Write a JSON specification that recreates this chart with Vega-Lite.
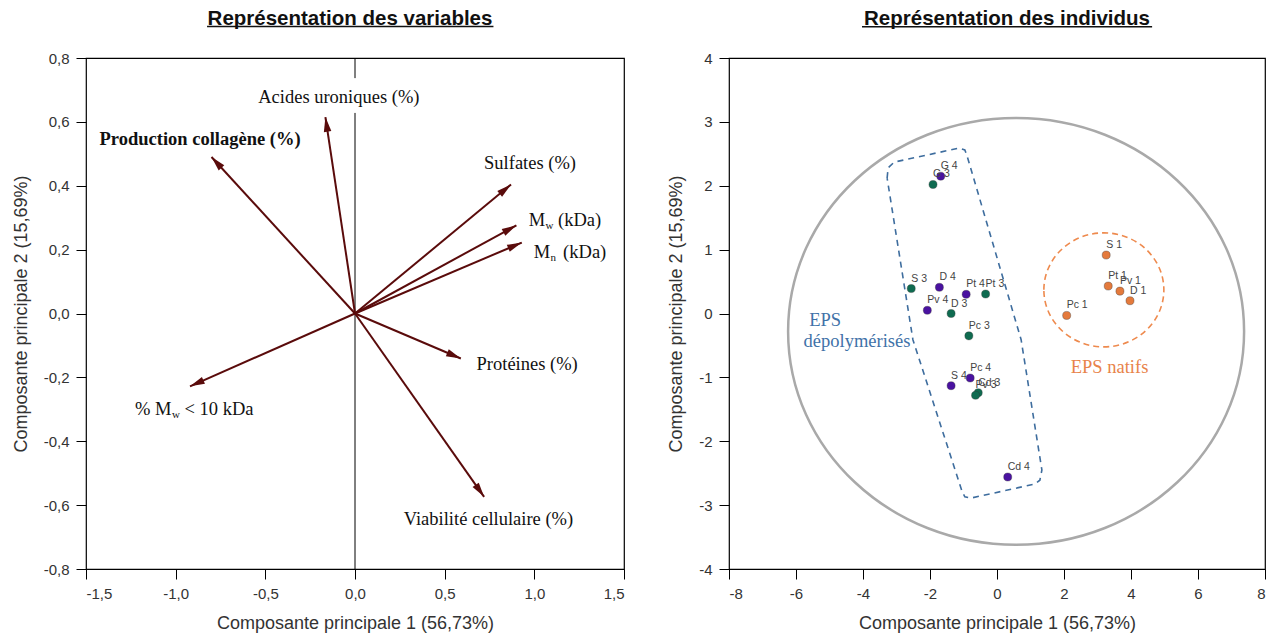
{
  "$schema": "https://vega.github.io/schema/vega-lite/v6.json",
  "background": "white",
  "padding": {"left": 11, "top": 8, "right": 5, "bottom": 5},
  "spacing": 41,
  "config": {
    "view": {"stroke": "#000", "strokeWidth": 1.2},
    "axis": {"grid": false, "domain": false, "tickColor": "#000", "tickSize": 10, "labelFont": "Liberation Sans", "labelFontSize": 15, "labelColor": "#333", "labelPadding": 7, "titleFont": "Liberation Sans", "titleFontSize": 18, "titleFontWeight": "normal", "titleColor": "#333", "titlePadding": 13},
    "title": {"font": "Liberation Sans", "fontSize": 20.5, "fontWeight": "bold", "color": "#111", "offset": -3.5}
  },
  "datasets": {
    "arrows": [
      {"var": "Production collagène (%)", "x": -0.80, "y": 0.49},
      {"var": "Acides uroniques (%)", "x": -0.165, "y": 0.615},
      {"var": "Sulfates (%)", "x": 0.87, "y": 0.404},
      {"var": "Mw (kDa)", "x": 0.90, "y": 0.276},
      {"var": "Mn (kDa)", "x": 0.93, "y": 0.222},
      {"var": "Protéines (%)", "x": 0.59, "y": -0.141},
      {"var": "% Mw < 10 kDa", "x": -0.92, "y": -0.228},
      {"var": "Viabilité cellulaire (%)", "x": 0.72, "y": -0.574}
    ],
    "vlabels": [
      {"text": "Acides uroniques (%)", "x": -0.09, "y": 0.677},
      {"text": "Sulfates (%)", "x": 0.976, "y": 0.47},
      {"text": "Protéines (%)", "x": 0.96, "y": -0.157},
      {"text": "Viabilité  cellulaire  (%)", "x": 0.744, "y": -0.645}
    ],
    "boldlabels": [
      {"text": "Production collagène (%)", "x": -0.864, "y": 0.545}
    ],
    "sublabels": [
      {"pre": "M", "sub": "w", "post": "(kDa)", "x": 1.06, "y": 0.294},
      {"pre": "M", "sub": "n", "post": "(kDa)", "x": 1.088, "y": 0.193},
      {"pre": "% M", "sub": "w", "post": "< 10 kDa", "x": -1.023, "y": -0.30}
    ],
    "axes0": [
      {"y": 0.8, "y2": 0.737},
      {"y": 0.628, "y2": -0.8}
    ],
    "souligneG": [
      {"x": -0.825, "x2": 0.772, "y": 0.899}
    ],
    "souligneD": [
      {"x": -4.03, "x2": 4.63, "y": 4.49}
    ],
    "individus": [
      {"nom": "G 4", "serie": "4", "x": -1.68, "y": 2.15},
      {"nom": "D 4", "serie": "4", "x": -1.72, "y": 0.41},
      {"nom": "Pt 4", "serie": "4", "x": -0.92, "y": 0.30},
      {"nom": "Pv 4", "serie": "4", "x": -2.08, "y": 0.05},
      {"nom": "S 4", "serie": "4", "x": -1.37, "y": -1.13},
      {"nom": "Pc 4", "serie": "4", "x": -0.80, "y": -1.01},
      {"nom": "Cd 4", "serie": "4", "x": 0.32, "y": -2.56},
      {"nom": "G 3", "serie": "3", "x": -1.91, "y": 2.02},
      {"nom": "S 3", "serie": "3", "x": -2.56, "y": 0.39},
      {"nom": "Pt 3", "serie": "3", "x": -0.34, "y": 0.305},
      {"nom": "D 3", "serie": "3", "x": -1.37, "y": 0.0},
      {"nom": "Pc 3", "serie": "3", "x": -0.84, "y": -0.35},
      {"nom": "Cd 3", "serie": "3", "x": -0.56, "y": -1.24},
      {"nom": "Pv 3", "serie": "3", "x": -0.64, "y": -1.28},
      {"nom": "S 1", "serie": "1", "x": 3.26, "y": 0.915},
      {"nom": "Pt 1", "serie": "1", "x": 3.32, "y": 0.43},
      {"nom": "Pv 1", "serie": "1", "x": 3.67, "y": 0.35},
      {"nom": "D 1", "serie": "1", "x": 3.97, "y": 0.20},
      {"nom": "Pc 1", "serie": "1", "x": 2.08, "y": -0.03}
    ],
    "contour": [
      {"o": 1, "x": -3.28, "y": 2.12},
      {"o": 2, "x": -3.25, "y": 2.28},
      {"o": 3, "x": -3.07, "y": 2.37},
      {"o": 4, "x": -1.13, "y": 2.59},
      {"o": 5, "x": -0.96, "y": 2.56},
      {"o": 6, "x": -0.90, "y": 2.48},
      {"o": 7, "x": 0.72, "y": -0.41},
      {"o": 8, "x": 1.34, "y": -2.45},
      {"o": 9, "x": 1.28, "y": -2.61},
      {"o": 10, "x": 1.13, "y": -2.67},
      {"o": 11, "x": -0.78, "y": -2.89},
      {"o": 12, "x": -0.96, "y": -2.87},
      {"o": 13, "x": -1.04, "y": -2.79},
      {"o": 14, "x": -2.51, "y": -0.41},
      {"o": 15, "x": -3.28, "y": 2.12}
    ],
    "groupes": [
      {"text": "EPS", "x": -5.13, "y": -0.10, "g": "dep"},
      {"text": "dépolymérisés", "x": -4.18, "y": -0.43, "g": "dep"},
      {"text": "EPS natifs", "x": 3.36, "y": -0.83, "g": "nat"}
    ],
    "cercles": [
      {"nom": "global", "x": 0.57, "y": -0.28},
      {"nom": "natifs", "x": 3.19, "y": 0.37}
    ]
  },
  "hconcat": [
    {
      "width": 538,
      "height": 511,
      "title": {"text": "Représentation des variables", "dx": -5},
      "layer": [
        {
          "data": {"name": "axes0"},
          "mark": {"type": "rule", "color": "#000", "strokeWidth": 1},
          "encoding": {
            "x": {"datum": 0, "type": "quantitative",
              "scale": {"domain": [-1.5, 1.5], "nice": false, "zero": false},
              "axis": {"values": [-1.5, -1, -0.5, 0, 0.5, 1, 1.5], "title": "Composante principale 1 (56,73%)",
                "labelExpr": "replace(replace(format(datum.value, '.1f'), '.', ','), '\u2212', '-')"}},
            "y": {"field": "y", "type": "quantitative",
              "scale": {"domain": [-0.8, 0.8], "nice": false, "zero": false},
              "axis": {"values": [-0.8, -0.6, -0.4, -0.2, 0, 0.2, 0.4, 0.6, 0.8], "title": "Composante principale 2 (15,69%)",
                "labelExpr": "replace(replace(format(datum.value, '.1f'), '.', ','), '\u2212', '-')"}},
            "y2": {"field": "y2"}
          }
        },
        {
          "mark": {"type": "rule", "color": "#000", "strokeWidth": 1},
          "encoding": {"y": {"datum": 0, "type": "quantitative"}}
        },
        {
          "data": {"name": "arrows"},
          "mark": {"type": "rule", "color": "#5a0b0b", "strokeWidth": 2},
          "encoding": {
            "x": {"field": "x", "type": "quantitative"},
            "y": {"field": "y", "type": "quantitative"},
            "x2": {"datum": 0},
            "y2": {"datum": 0}
          }
        },
        {
          "data": {"name": "arrows"},
          "transform": [{"calculate": "90 - atan2(datum.y * 319.4, datum.x * 179.6) * 180 / PI", "as": "ang"}],
          "mark": {"type": "point", "shape": "M0,0L0.36,1.4L-0.36,1.4Z", "filled": true, "color": "#5a0b0b", "opacity": 1, "size": 440},
          "encoding": {
            "x": {"field": "x", "type": "quantitative"},
            "y": {"field": "y", "type": "quantitative"},
            "angle": {"field": "ang", "type": "quantitative", "scale": null}
          }
        },
        {
          "data": {"name": "vlabels"},
          "mark": {"type": "text", "font": "Liberation Serif", "fontSize": 18.5, "color": "#111", "align": "center", "baseline": "middle"},
          "encoding": {
            "x": {"field": "x", "type": "quantitative"},
            "y": {"field": "y", "type": "quantitative"},
            "text": {"field": "text"}
          }
        },
        {
          "data": {"name": "boldlabels"},
          "mark": {"type": "text", "font": "Liberation Serif", "fontSize": 18.5, "fontWeight": "bold", "color": "#111", "align": "center", "baseline": "middle"},
          "encoding": {
            "x": {"field": "x", "type": "quantitative"},
            "y": {"field": "y", "type": "quantitative"},
            "text": {"field": "text"}
          }
        },
        {
          "data": {"name": "sublabels"},
          "mark": {"type": "text", "font": "Liberation Serif", "fontSize": 18.5, "color": "#111", "align": "right", "baseline": "middle"},
          "encoding": {
            "x": {"field": "x", "type": "quantitative"},
            "y": {"field": "y", "type": "quantitative"},
            "text": {"field": "pre"}
          }
        },
        {
          "data": {"name": "sublabels"},
          "mark": {"type": "text", "font": "Liberation Serif", "fontSize": 11, "color": "#111", "align": "left", "baseline": "middle", "dx": 0.5, "dy": 6},
          "encoding": {
            "x": {"field": "x", "type": "quantitative"},
            "y": {"field": "y", "type": "quantitative"},
            "text": {"field": "sub"}
          }
        },
        {
          "data": {"name": "sublabels"},
          "mark": {"type": "text", "font": "Liberation Serif", "fontSize": 18.5, "color": "#111", "align": "left", "baseline": "middle", "dx": 13},
          "encoding": {
            "x": {"field": "x", "type": "quantitative"},
            "y": {"field": "y", "type": "quantitative"},
            "text": {"field": "post"}
          }
        },
        {
          "data": {"name": "souligneG"},
          "mark": {"type": "rule", "color": "#111", "strokeWidth": 1.5, "clip": false},
          "encoding": {
            "x": {"field": "x", "type": "quantitative"},
            "x2": {"field": "x2"},
            "y": {"field": "y", "type": "quantitative"}
          }
        }
      ]
    },
    {
      "width": 536,
      "height": 511,
      "title": {"text": "Représentation des individus", "dx": 10},
      "layer": [
        {
          "data": {"name": "cercles"},
          "transform": [{"filter": "datum.nom === 'global'"}],
          "mark": {"type": "point", "shape": "M-1,0A1,0.936,0,1,1,1,0A1,0.936,0,1,1,-1,0Z", "filled": false, "stroke": "#a9a9a9", "strokeWidth": 2.5, "opacity": 1, "size": 207936},
          "encoding": {
            "x": {"field": "x", "type": "quantitative",
              "scale": {"domain": [-8, 8], "nice": false, "zero": false},
              "axis": {"values": [-8, -6, -4, -2, 0, 2, 4, 6, 8], "title": "Composante principale 1 (56,73%)", "labelExpr": "replace(format(datum.value, 'd'), '\u2212', '-')"}},
            "y": {"field": "y", "type": "quantitative",
              "scale": {"domain": [-4, 4], "nice": false, "zero": false},
              "axis": {"values": [-4, -3, -2, -1, 0, 1, 2, 3, 4], "title": "Composante principale 2 (15,69%)", "labelExpr": "replace(format(datum.value, 'd'), '\u2212', '-')"}}
          }
        },
        {
          "data": {"name": "cercles"},
          "transform": [{"filter": "datum.nom === 'natifs'"}],
          "mark": {"type": "point", "shape": "M-1,0A1,0.95,0,1,1,1,0A1,0.95,0,1,1,-1,0Z", "filled": false, "stroke": "#ee8a4e", "strokeWidth": 1.6, "strokeDash": [6, 4], "opacity": 1, "size": 14400},
          "encoding": {
            "x": {"field": "x", "type": "quantitative"},
            "y": {"field": "y", "type": "quantitative"}
          }
        },
        {
          "data": {"name": "contour"},
          "mark": {"type": "line", "color": "#3e6d9e", "strokeWidth": 1.6, "strokeDash": [6, 5], "interpolate": "linear"},
          "encoding": {
            "x": {"field": "x", "type": "quantitative"},
            "y": {"field": "y", "type": "quantitative"},
            "order": {"field": "o", "type": "quantitative"}
          }
        },
        {
          "data": {"name": "individus"},
          "mark": {"type": "point", "filled": true, "size": 65, "opacity": 1, "stroke": "#333", "strokeWidth": 0.6, "strokeOpacity": 0.6},
          "encoding": {
            "x": {"field": "x", "type": "quantitative"},
            "y": {"field": "y", "type": "quantitative"},
            "color": {"field": "serie", "type": "nominal", "scale": {"domain": ["1", "3", "4"], "range": ["#e47a3c", "#0f6b50", "#4a12a0"]}, "legend": null}
          }
        },
        {
          "data": {"name": "individus"},
          "mark": {"type": "text", "font": "Liberation Sans", "fontSize": 10.5, "color": "#444", "align": "left", "baseline": "middle", "dx": 0, "dy": -10},
          "encoding": {
            "x": {"field": "x", "type": "quantitative"},
            "y": {"field": "y", "type": "quantitative"},
            "text": {"field": "nom"}
          }
        },
        {
          "data": {"name": "groupes"},
          "transform": [{"filter": "datum.g === 'dep'"}],
          "mark": {"type": "text", "font": "Liberation Serif", "fontSize": 18.5, "align": "center", "baseline": "middle", "color": "#3f72a8"},
          "encoding": {
            "x": {"field": "x", "type": "quantitative"},
            "y": {"field": "y", "type": "quantitative"},
            "text": {"field": "text"}
          }
        },
        {
          "data": {"name": "groupes"},
          "transform": [{"filter": "datum.g === 'nat'"}],
          "mark": {"type": "text", "font": "Liberation Serif", "fontSize": 18.5, "align": "center", "baseline": "middle", "color": "#e8834a"},
          "encoding": {
            "x": {"field": "x", "type": "quantitative"},
            "y": {"field": "y", "type": "quantitative"},
            "text": {"field": "text"}
          }
        },
        {
          "data": {"name": "souligneD"},
          "mark": {"type": "rule", "color": "#111", "strokeWidth": 1.5, "clip": false},
          "encoding": {
            "x": {"field": "x", "type": "quantitative"},
            "x2": {"field": "x2"},
            "y": {"field": "y", "type": "quantitative"}
          }
        }
      ]
    }
  ]
}
